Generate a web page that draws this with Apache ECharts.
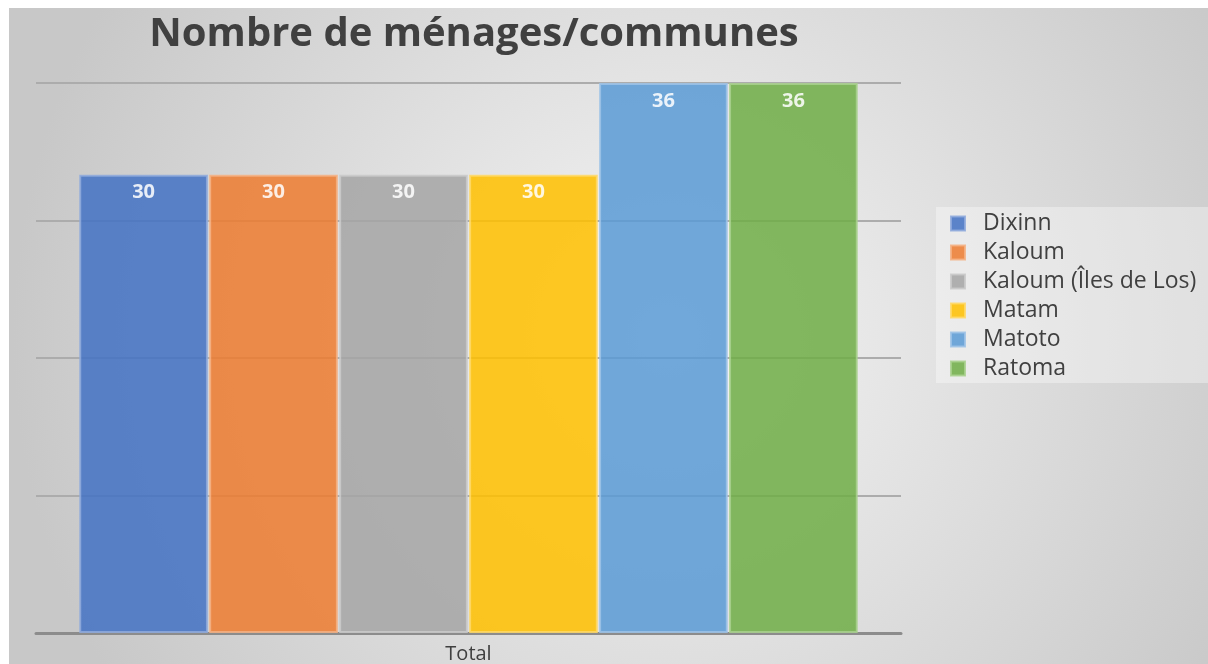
<!DOCTYPE html>
<html>
<head>
<meta charset="utf-8">
<script src="https://cdn.jsdelivr.net/npm/echarts@6/dist/echarts.min.js"></script>
<style>
  html, body { margin: 0; padding: 0; background: #fff; }
  #main { position: absolute; left: 9px; top: 8px; width: 1199px; height: 656px; }
</style>
</head>
<body>
<div id="main"></div>
<script>
// données
const categories = ["Total"];
const communes = ["Dixinn", "Kaloum", "Kaloum (Îles de Los)", "Matam", "Matoto", "Ratoma"];
const menages = [30, 30, 30, 30, 36, 36];
const couleurs = ["#4472c4", "#ed7d31", "#a5a5a5", "#ffc000", "#5b9bd5", "#70ad47"];
const bordures = ["#8faadc", "#f4b183", "#c9c9c9", "#ffd966", "#9dc3e6", "#a9d18e"];

const chart = echarts.init(document.getElementById("main"));

const series = communes.map(function (nom, i) {
  return {
    name: nom,
    type: "bar",
    barGap: "1%",
    barCategoryGap: "10%",
    data: [menages[i]],
    itemStyle: {
      color: couleurs[i],
      opacity: 0.86,
      borderColor: bordures[i],
      borderWidth: 2
    },
    label: {
      show: true,
      position: "insideTop",
      distance: 8,
      color: "#fff",
      fontWeight: "bold",
      fontSize: 20,
      fontFamily: "Open Sans"
    },
    emphasis: { disabled: true }
  };
});

const option = {
  backgroundColor: new echarts.graphic.RadialGradient(0.55, 0.5, 1.0, [
    { offset: 0, color: "#f5f5f5" },
    { offset: 1, color: "#c8c8c8" }
  ]),
  title: {
    text: "Nombre de ménages/communes",
    left: 460,
    top: 2,
    textAlign: "center",
    textStyle: {
      fontFamily: "Open Sans",
      fontWeight: "bold",
      fontSize: 40,
      color: "#404040"
    }
  },
  legend: {
    orient: "vertical",
    left: 927,
    top: 199,
    width: 272,
    padding: [5, 60, 3, 14],
    backgroundColor: "rgba(255,255,255,0.35)",
    itemWidth: 14,
    itemHeight: 14,
    itemGap: 6,
    icon: "rect",
    textStyle: {
      fontFamily: "Open Sans",
      fontSize: 23,
      lineHeight: 23,
      color: "#404040",
      padding: [0, 0, 0, 13]
    },
    data: communes
  },
  grid: { left: 27, right: 307, top: 75, bottom: 27 },
  xAxis: {
    type: "category",
    data: categories,
    axisTick: { show: false },
    axisLine: { lineStyle: { color: "#8c8c8c", width: 3 } },
    axisLabel: { color: "#404040", fontSize: 20, fontFamily: "Open Sans", margin: 11 }
  },
  yAxis: {
    type: "value",
    min: 0,
    max: 36,
    interval: 9,
    axisLabel: { show: false },
    axisLine: { show: false },
    axisTick: { show: false },
    splitLine: { lineStyle: { color: "#acacac", width: 2 } }
  },
  series: series
};

chart.setOption(option);
</script>
</body>
</html>
